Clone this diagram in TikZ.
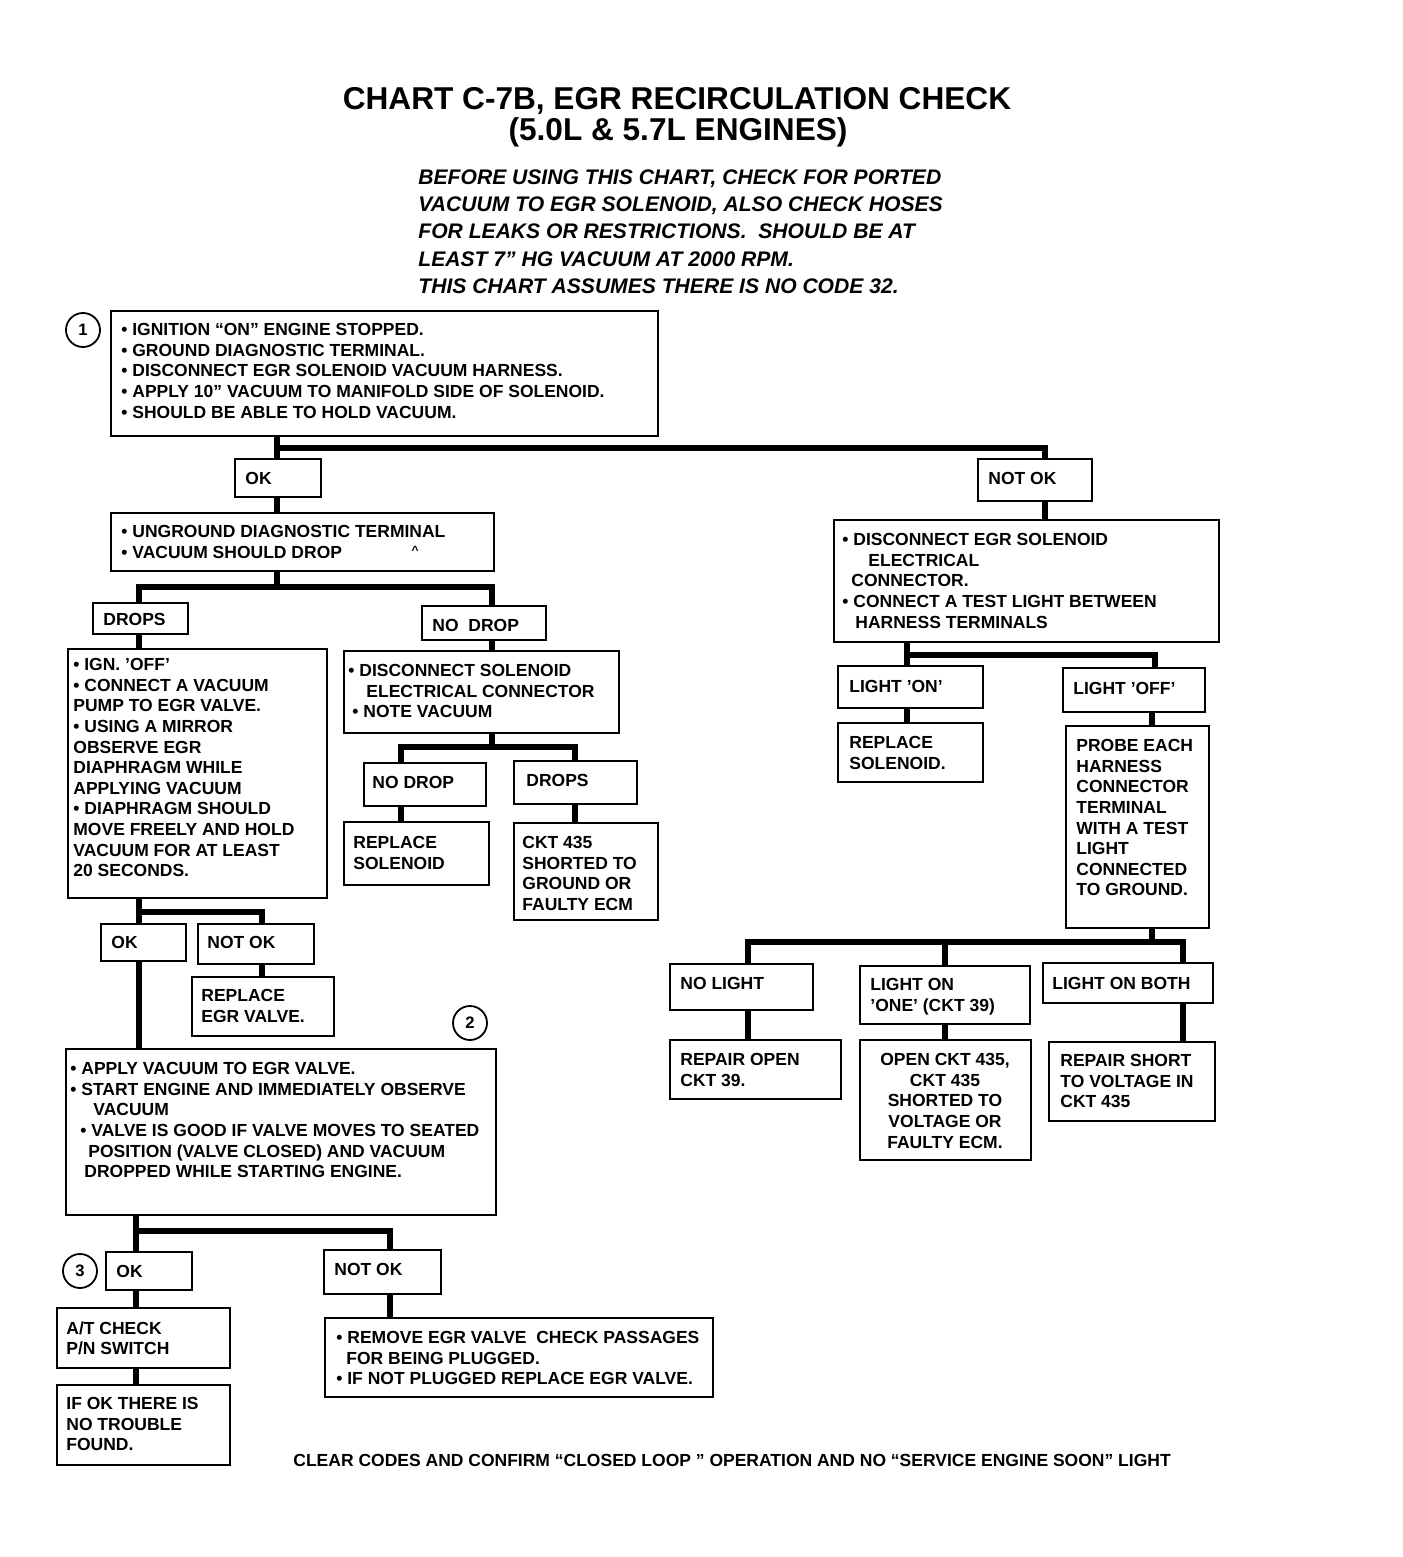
\documentclass[tikz,border=0pt]{standalone}
\usepackage{fontspec}
\setmainfont{Liberation Sans}
\usetikzlibrary{fit}
\begin{document}
\begin{tikzpicture}[x=0.5pt,y=-0.5pt,
  box/.style={draw, line width=1.1pt, inner sep=0pt},
  conn/.style={line width=2.6pt},
  tx/.style={inner sep=0pt, anchor=north west, align=left, font=\bfseries\fontsize{8.75}{10.3}\selectfont},
  txc/.style={tx, anchor=north, align=center},
  circ/.style={draw, circle, line width=0.9pt, minimum size=17pt, inner sep=0pt, font=\bfseries\fontsize{8.3}{10}\selectfont},
  ttl/.style={inner sep=0pt, font=\bfseries\fontsize{15.8}{17}\selectfont},
  sub/.style={inner sep=0pt, anchor=north west, align=left, font=\bfseries\itshape\fontsize{10.55}{13.65}\selectfont}]
\useasboundingbox[fill=white] (0,0) rectangle (1402,1557);

% title
\node[ttl] (title1) at (677,101) {CHART C-7B, EGR RECIRCULATION CHECK};
\node[ttl] (title2) at (678,132) {(5.0L \& 5.7L ENGINES)};
\node[sub] (subt) at (418,169) {BEFORE USING THIS CHART, CHECK FOR PORTED\\VACUUM TO EGR SOLENOID, ALSO CHECK HOSES\\FOR LEAKS OR RESTRICTIONS.\ \ SHOULD BE AT\\LEAST 7” HG VACUUM AT 2000 RPM.\\THIS CHART ASSUMES THERE IS NO CODE 32.};

% boxes
\node[box, fit={(111,311)(658,436)}] (b1) {};
\node[tx] (b1t) at (121,323) {• IGNITION “ON” ENGINE STOPPED.\\• GROUND DIAGNOSTIC TERMINAL.\\• DISCONNECT EGR SOLENOID VACUUM HARNESS.\\• APPLY 10” VACUUM TO MANIFOLD SIDE OF SOLENOID.\\• SHOULD BE ABLE TO HOLD VACUUM.};
\node[circ] (c1) at (83,330) {1};

\node[box, fit={(235,459)(321,497)}] (ok1) {};
\node[tx] (ok1t) at (245,472) {OK};
\node[box, fit={(978,459)(1092,501)}] (nok1) {};
\node[tx] (nok1t) at (988,472) {NOT OK};

\node[box, fit={(111,513)(494,571)}] (b2) {};
\node[tx] (b2t) at (121,525) {• UNGROUND DIAGNOSTIC TERMINAL\\• VACUUM SHOULD DROP};
\node[inner sep=0pt, font=\bfseries\fontsize{6}{6}\selectfont] (caret) at (415,550) {\^{}};

\node[box, fit={(93,603)(188,634)}] (drops) {};
\node[tx] (dropst) at (103,613) {DROPS};
\node[box, fit={(422,606)(546,640)}] (nodrop) {};
\node[tx] (nodropt) at (432,619) {NO\ \ DROP};

\node[box, fit={(68,649)(327,898)}] (b3) {};
\node[tx] (b3t) at (73,658) {• IGN. 'OFF'\\• CONNECT A VACUUM\\PUMP TO EGR VALVE.\\• USING A MIRROR\\OBSERVE EGR\\DIAPHRAGM WHILE\\APPLYING VACUUM\\• DIAPHRAGM SHOULD\\MOVE FREELY AND HOLD\\VACUUM FOR AT LEAST\\20 SECONDS.};

\node[box, fit={(101,924)(186,961)}] (ok2) {};
\node[tx] (ok2t) at (111,936) {OK};
\node[box, fit={(198,924)(314,964)}] (nok2) {};
\node[tx] (nok2t) at (207,936) {NOT OK};
\node[box, fit={(192,977)(334,1036)}] (repegr) {};
\node[tx] (repegrt) at (201,989) {REPLACE\\EGR VALVE.};
\node[circ] (c2) at (470,1023) {2};

\node[box, fit={(66,1049)(496,1215)}] (b4) {};
\node[tx] (b4t) at (70,1062) {• APPLY VACUUM TO EGR VALVE.\\• START ENGINE AND IMMEDIATELY OBSERVE\\\hspace*{11.5pt}VACUUM\\\hspace*{5pt}• VALVE IS GOOD IF VALVE MOVES TO SEATED\\\hspace*{9pt}POSITION (VALVE CLOSED) AND VACUUM\\\hspace*{7pt}DROPPED WHILE STARTING ENGINE.};

\node[box, fit={(106,1252)(192,1290)}] (ok3) {};
\node[tx] (ok3t) at (116,1265) {OK};
\node[circ] (c3) at (80,1271) {3};
\node[box, fit={(324,1250)(441,1294)}] (nok3) {};
\node[tx] (nok3t) at (334,1263) {NOT OK};
\node[box, fit={(57,1308)(230,1368)}] (atc) {};
\node[tx] (atct) at (66,1321) {A/T CHECK\\P/N SWITCH};
\node[box, fit={(57,1385)(230,1465)}] (ifok) {};
\node[tx] (ifokt) at (66,1397) {IF OK THERE IS\\NO TROUBLE\\FOUND.};
\node[box, fit={(325,1318)(713,1397)}] (remv) {};
\node[tx] (remvt) at (336,1331) {• REMOVE EGR VALVE\ \ CHECK PASSAGES\\\hspace*{5pt}FOR BEING PLUGGED.\\• IF NOT PLUGGED REPLACE EGR VALVE.};

\node[tx, anchor=west] (foot) at (293,1460) {CLEAR CODES AND CONFIRM “CLOSED LOOP ” OPERATION AND NO “SERVICE ENGINE SOON” LIGHT};

% middle
\node[box, fit={(344,651)(619,733)}] (m1) {};
\node[tx] (m1t) at (348,664) {• DISCONNECT SOLENOID\\\hspace*{9pt}ELECTRICAL CONNECTOR\\\hspace*{2pt}• NOTE VACUUM};
\node[box, fit={(364,763)(486,806)}] (nd2) {};
\node[tx] (nd2t) at (372,776) {NO DROP};
\node[box, fit={(514,761)(637,804)}] (dr2) {};
\node[tx] (dr2t) at (526,774) {DROPS};
\node[box, fit={(344,822)(489,885)}] (rsol1) {};
\node[tx] (rsol1t) at (353,836) {REPLACE\\SOLENOID};
\node[box, fit={(514,823)(658,920)}] (ckt) {};
\node[tx] (cktt) at (522,836) {CKT 435\\SHORTED TO\\GROUND OR\\FAULTY ECM};

% right
\node[box, fit={(834,520)(1219,642)}] (r1) {};
\node[tx] (r1t) at (842,533) {• DISCONNECT EGR SOLENOID\\\hspace*{13pt}ELECTRICAL\\\hspace*{4.5pt}CONNECTOR.\\• CONNECT A TEST LIGHT BETWEEN\\\hspace*{6.5pt}HARNESS TERMINALS};
\node[box, fit={(838,666)(983,708)}] (lon) {};
\node[tx] (lont) at (849,680) {LIGHT 'ON'};
\node[box, fit={(1063,668)(1205,712)}] (loff) {};
\node[tx] (lofft) at (1073,682) {LIGHT 'OFF'};
\node[box, fit={(838,723)(983,782)}] (rsol2) {};
\node[tx] (rsol2t) at (849,736) {REPLACE\\SOLENOID.};
\node[box, fit={(1066,726)(1209,928)}] (probe) {};
\node[tx] (probet) at (1076,739) {PROBE EACH\\HARNESS\\CONNECTOR\\TERMINAL\\WITH A TEST\\LIGHT\\CONNECTED\\TO GROUND.};
\node[box, fit={(670,964)(813,1010)}] (nl) {};
\node[tx] (nlt) at (680,977) {NO LIGHT};
\node[box, fit={(860,966)(1030,1024)}] (lone) {};
\node[tx] (lonet) at (870,978) {LIGHT ON\\'ONE' (CKT 39)};
\node[box, fit={(1043,963)(1213,1003)}] (lboth) {};
\node[tx] (lbotht) at (1052,977) {LIGHT ON BOTH};
\node[box, fit={(670,1040)(841,1099)}] (ro) {};
\node[tx] (rot) at (680,1053) {REPAIR OPEN\\CKT 39.};
\node[box, fit={(860,1040)(1031,1160)}] (oc) {};
\node[txc] (oct) at (945,1053) {OPEN CKT 435,\\CKT 435\\SHORTED TO\\VOLTAGE OR\\FAULTY ECM.};
\node[box, fit={(1049,1042)(1215,1121)}] (rsh) {};
\node[tx] (rsht) at (1060,1054) {REPAIR SHORT\\TO VOLTAGE IN\\CKT 435};

% connector coordinates
\coordinate (j1l) at (277,448); \coordinate (j1r) at (1045,448);
\coordinate (j2) at (277,587); \coordinate (j2l) at (139,587); \coordinate (j2r) at (492,587);
\coordinate (j3l) at (139,912); \coordinate (j3r) at (262,912);
\coordinate (j4l) at (136,1231); \coordinate (j4r) at (390,1231);
\coordinate (j5) at (492,747); \coordinate (j5l) at (401,747); \coordinate (j5r) at (575,747);
\coordinate (j6l) at (907,655); \coordinate (j6r) at (1155,655);
\coordinate (j7) at (1152,942); \coordinate (j7l) at (748,942); \coordinate (j7m) at (945,942); \coordinate (j7r) at (1183,942);

% connectors
\draw[conn] (b1.south -| j1l) -- (ok1.north -| j1l);
\draw[conn] (j1l) -- (j1r) -- (nok1.north -| j1r);
\draw[conn] (ok1.south -| j1l) -- (b2.north -| j1l);
\draw[conn] (b2.south -| j2) -- (j2);
\draw[conn] (drops.north -| j2l) |- (j2r) -- (nodrop.north -| j2r);
\draw[conn] (drops.south -| j2l) -- (b3.north -| j2l);
\draw[conn] (b3.south -| j3l) -- (ok2.north -| j3l);
\draw[conn] (j3l) -- (j3r) -- (nok2.north -| j3r);
\draw[conn] (nok2.south -| j3r) -- (repegr.north -| j3r);
\draw[conn] (ok2.south -| j3l) -- (b4.north -| j3l);
\draw[conn] (b4.south -| j4l) -- (ok3.north -| j4l);
\draw[conn] (j4l) -- (j4r) -- (nok3.north -| j4r);
\draw[conn] (ok3.south -| j4l) -- (atc.north -| j4l);
\draw[conn] (atc.south -| j4l) -- (ifok.north -| j4l);
\draw[conn] (nok3.south -| j4r) -- (remv.north -| j4r);
\draw[conn] (nodrop.south -| j5) -- (m1.north -| j5);
\draw[conn] (m1.south -| j5) -- (j5);
\draw[conn] (nd2.north -| j5l) |- (j5r) -- (dr2.north -| j5r);
\draw[conn] (nd2.south -| j5l) -- (rsol1.north -| j5l);
\draw[conn] (dr2.south -| j5r) -- (ckt.north -| j5r);
\draw[conn] (nok1.south -| j1r) -- (r1.north -| j1r);
\draw[conn] (r1.south -| j6l) -- (lon.north -| j6l);
\draw[conn] (j6l) -- (j6r) -- (loff.north -| j6r);
\draw[conn] (lon.south -| j6l) -- (rsol2.north -| j6l);
\draw[conn] (loff.south -| j7) -- (probe.north -| j7);
\draw[conn] (probe.south -| j7) -- (j7);
\draw[conn] (nl.north -| j7l) |- (j7r) -- (lboth.north -| j7r);
\draw[conn] (j7m) -- (lone.north -| j7m);
\draw[conn] (nl.south -| j7l) -- (ro.north -| j7l);
\draw[conn] (lone.south -| j7m) -- (oc.north -| j7m);
\draw[conn] (lboth.south -| j7r) -- (rsh.north -| j7r);
\end{tikzpicture}
\end{document}
